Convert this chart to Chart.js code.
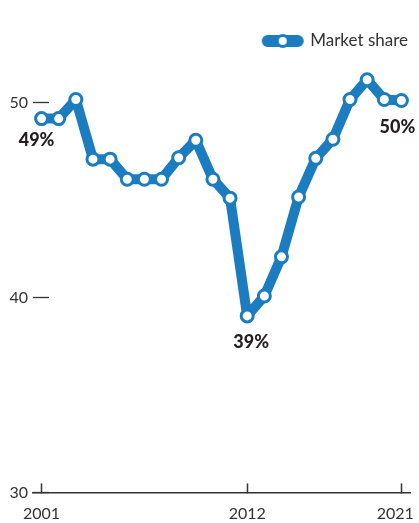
<!DOCTYPE html>
<html>
<head>
<meta charset="utf-8">
<script src="https://cdn.jsdelivr.net/npm/chart.js@4/dist/chart.umd.min.js"></script>
<style>
  html, body { margin: 0; padding: 0; background: #fff; overflow: hidden; }
  #wrap { width: 419px; height: 523px; position: relative; }
</style>
</head>
<body>
<div id="wrap"><canvas id="share-chart"></canvas></div>
<script>
// survey points (2011 was surveyed twice)
const years = ['2001', '2002', '2003', '2004', '2005', '2006', '2007', '2008', '2009', '2010', '2011',
  '2011', '2012', '2013', '2014', '2015', '2016', '2017', '2018', '2019', '2020', '2021'];
const marketShare = [49.17, 49.17, 50.15, 47.09, 47.09, 46.06, 46.06, 46.06, 47.16, 48.06, 46.06,
  45.09, 39.05, 40.07, 42.08, 45.15, 47.13, 48.11, 50.15, 51.16, 50.15, 50.1];
const tickYears = ['2001', '2012', '2021'];
const yTicks = [30, 40, 50];
const labelledPoints = [0, 12, 21];

const blue = '#1b7dbf';
const ink = '#333';
Chart.defaults.font.family = "Lato, 'Open Sans', sans-serif";

// legend swatch: thick line with a hollow marker
function legendSwatch() {
  const c = document.createElement('canvas');
  c.width = 46; c.height = 16;
  const ctx = c.getContext('2d');
  ctx.strokeStyle = blue;
  ctx.lineWidth = 12;
  ctx.lineCap = 'round';
  ctx.beginPath(); ctx.moveTo(8, 8); ctx.lineTo(38, 8); ctx.stroke();
  ctx.fillStyle = '#fff';
  ctx.lineWidth = 3;
  ctx.beginPath(); ctx.arc(23, 8, 5.5, 0, Math.PI * 2); ctx.fill(); ctx.stroke();
  return c;
}

const pointLabels = {
  id: 'pointLabels',
  afterDatasetsDraw(chart, args, opts) {
    const meta = chart.getDatasetMeta(0);
    const ctx = chart.ctx;
    ctx.save();
    ctx.font = "900 18px Lato, 'Open Sans', sans-serif";
    ctx.fillStyle = '#231f20';
    ctx.textAlign = 'center';
    ctx.textBaseline = 'middle';
    labelledPoints.forEach(i => {
      const p = meta.data[i];
      const [dx, dy] = opts.offsets[i];
      ctx.fillText(Math.round(marketShare[i]) + '%', p.x + dx, p.y + dy);
    });
    ctx.restore();
  }
};

const swatch = legendSwatch();

new Chart(document.getElementById('share-chart'), {
  type: 'line',
  data: {
    labels: years,
    datasets: [{
      label: 'Market share',
      data: marketShare,
      borderColor: blue,
      borderWidth: 10,
      borderJoinStyle: 'round',
      borderCapStyle: 'round',
      tension: 0,
      pointRadius: 6,
      pointBorderWidth: 3,
      pointBackgroundColor: '#fff',
      pointBorderColor: blue,
      clip: false
    }]
  },
  plugins: [pointLabels],
  options: {
    responsive: true,
    maintainAspectRatio: false,
    animation: false,
    layout: { padding: { top: 21.5, right: 0, left: 0, bottom: 0 } },
    plugins: {
      tooltip: { enabled: false },
      pointLabels: { offsets: { 0: [-5, 21.5], 12: [4, 26], 21: [-4, 27] } },
      legend: {
        position: 'top',
        align: 'end',
        labels: {
          usePointStyle: true,
          pointStyleWidth: 38,
          padding: 11,
          color: ink,
          font: { size: 17 },
          generateLabels: () => [{ text: 'Market share', pointStyle: swatch, datasetIndex: 0, fontColor: ink }]
        }
      }
    },
    scales: {
      x: {
        offset: true,
        border: { display: true, color: ink, width: 1.5 },
        grid: { drawOnChartArea: false, tickLength: -9, tickColor: ink, tickWidth: 1.5 },
        ticks: {
          autoSkip: false,
          maxRotation: 0,
          padding: 21,
          color: ink,
          font: { size: 16 },
          callback(v, i) {
            const lab = this.getLabelForValue(v);
            if (!tickYears.includes(lab)) return null;
            return i === years.length - 1 ? lab + '\u00a0\u00a0\u00a0' : lab;
          }
        },
        afterFit(s) { s.height = 29; s.paddingLeft = 0; s.paddingRight = 5; }
      },
      y: {
        min: 30,
        max: 52.2,
        border: { display: false },
        grid: { drawOnChartArea: false, tickLength: -16, tickColor: ink, tickWidth: 1.3 },
        ticks: { padding: 21, color: ink, font: { size: 16 } },
        afterBuildTicks(s) { s.ticks = yTicks.map(v => ({ value: v })); },
        afterFit(s) { s.width = 33; }
      }
    }
  }
});
</script>
</body>
</html>
